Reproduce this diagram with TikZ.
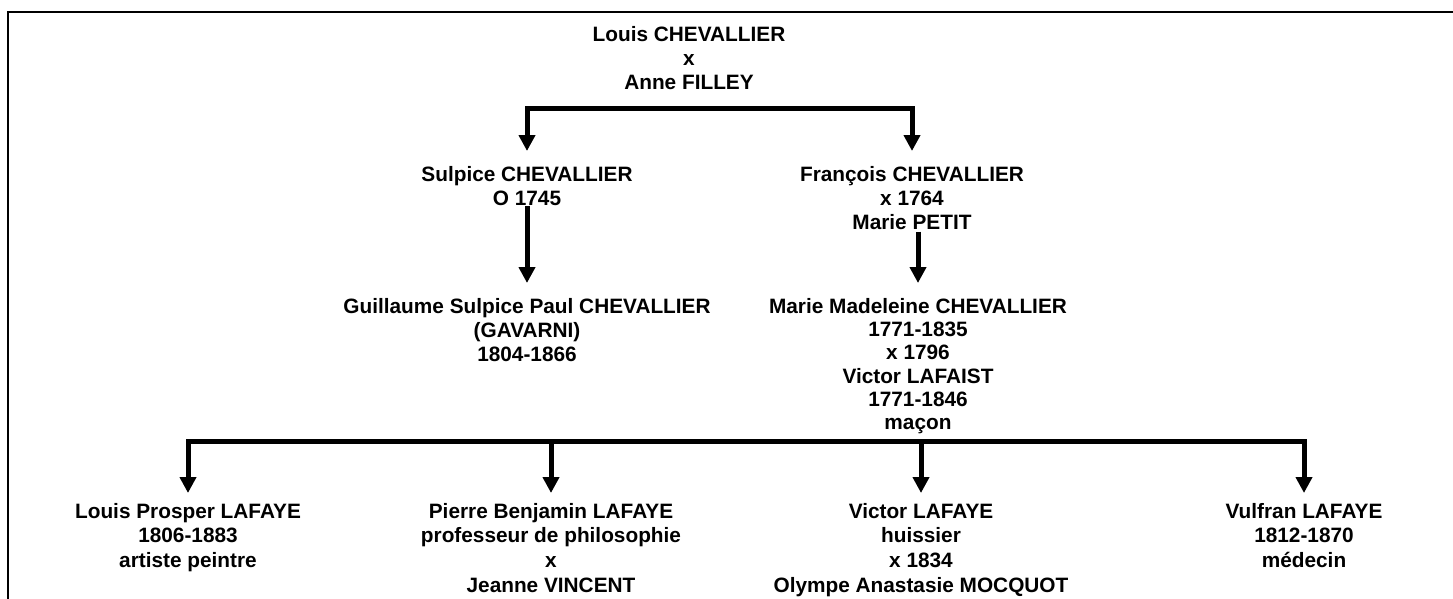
\documentclass[tikz,border=0pt]{standalone}
\usepackage{fontspec}
\setmainfont{Liberation Sans}
\usetikzlibrary{arrows.meta}
\begin{document}
\begin{tikzpicture}[x=1pt,y=-1pt,
  person/.style={anchor=north, align=center, inner sep=0pt, font=\fontsize{20.8}{24}\selectfont\bfseries},
  tight/.style={font=\fontsize{20.8}{23.3}\selectfont\bfseries},
  loose/.style={font=\fontsize{20.8}{24.6}\selectfont\bfseries},
  link/.style={line width=5pt, line join=miter, -{Triangle[length=16pt,width=16pt]}},
  frameline/.style={line width=2pt}]
\useasboundingbox (0,0) rectangle (1453,598);
\coordinate (f1) at (8,600);
\coordinate (f2) at (8,12);
\coordinate (f3) at (1456,12);
\draw[frameline] (f1) -- (f2) -- (f3);

\node[person] (root) at (689,26.5) {Louis CHEVALLIER\\x\\Anne FILLEY};
\node[person] (sulpice) at (527,166) {Sulpice CHEVALLIER\\O 1745};
\node[person] (francois) at (912,166) {François CHEVALLIER\\x 1764\\Marie PETIT};
\node[person] (gavarni) at (527,298) {Guillaume Sulpice Paul CHEVALLIER\\(GAVARNI)\\1804-1866};
\node[person, tight] (madeleine) at (918,298) {Marie Madeleine CHEVALLIER\\1771-1835\\x 1796\\Victor LAFAIST\\1771-1846\\maçon};
\node[person, loose] (prosper) at (188,503) {Louis Prosper LAFAYE\\1806-1883\\artiste peintre};
\node[person, loose] (pierre) at (551,503) {Pierre Benjamin LAFAYE\\professeur de philosophie\\x\\Jeanne VINCENT};
\node[person, loose] (victor) at (921,503) {Victor LAFAYE\\huissier\\x 1834\\Olympe Anastasie MOCQUOT};
\node[person, loose] (vulfran) at (1304,503) {Vulfran LAFAYE\\1812-1870\\médecin};

\coordinate (t1) at (527,108);
\coordinate (t2) at (912,108);
\draw[link, shorten >=15pt] (t2) -- (t1) -- (sulpice.north);
\draw[link, shorten >=15pt] (t1) -- (t2) -- (francois.north);
\draw[link, shorten >=15pt] (sulpice.south) -- (gavarni.north);
\draw[link, shorten <=2pt, shorten >=15pt] (francois.south -| madeleine.north) -- (madeleine.north);

\coordinate (b1) at (188,441);
\coordinate (b2) at (551,441);
\coordinate (b3) at (921,441);
\coordinate (b4) at (1304,441);
\draw[link, shorten >=10pt] (b4) -- (b1) -- (prosper.north);
\draw[link, shorten >=10pt] (b1) -- (b4) -- (vulfran.north);
\draw[link, shorten >=10pt] (b2) -- (pierre.north);
\draw[link, shorten >=10pt] (b3) -- (victor.north);
\end{tikzpicture}
\end{document}
